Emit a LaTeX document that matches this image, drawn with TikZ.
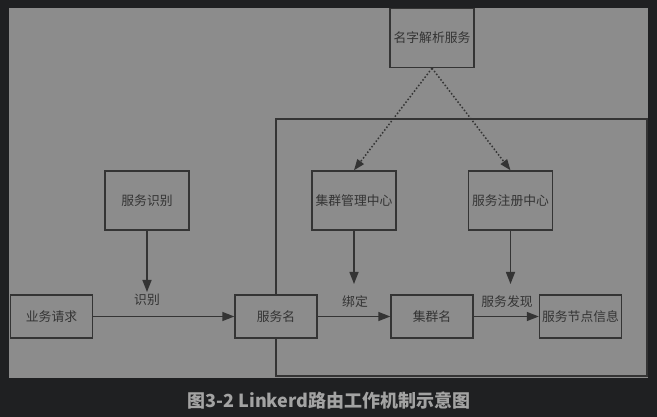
\documentclass[tikz,border=0pt]{standalone}
\usepackage{fontspec}
\newfontfamily\cjk{Noto Sans CJK SC}
\usetikzlibrary{arrows.meta}
\definecolor{bgdark}{HTML}{1F2022}
\definecolor{panel}{HTML}{8C8C8C}
\definecolor{ink}{HTML}{343434}
\definecolor{captc}{HTML}{A3A3A3}
\begin{document}
\begin{tikzpicture}[x=1pt,y=-1pt,
  box/.style={draw=ink, line width=1.4pt, fill=panel, inner sep=0pt, text=ink,
    font=\cjk\fontsize{12.8}{13}\selectfont},
  tall/.style={box, minimum width=84pt, minimum height=59pt},
  flat/.style={box, minimum width=82pt, minimum height=43pt},
  arr/.style={draw=ink, line width=1.4pt, -{Triangle[length=12pt,width=9pt]}},
  dotarr/.style={draw=ink, line width=1.5pt, dash pattern=on 1.5pt off 2pt, -{Triangle[length=11pt,width=8pt]}},
  lbl/.style={text=ink, inner sep=0pt, font=\cjk\fontsize{12.8}{13}\selectfont}]
\useasboundingbox (0,0) rectangle (657,417);
\fill[bgdark] (0,0) rectangle (657,417);
\fill[panel] (9,8) rectangle (648,378);
% container
\draw[ink, line width=1.4pt] (276,119) rectangle (647,376);
% nodes
\node[tall] (dns) at (432,38) {名字解析服务};
\node[tall] (sid) at (147,200.5) {服务识别};
\node[tall] (cm) at (354,200.5) {集群管理中心};
\node[tall] (reg) at (510.5,200.5) {服务注册中心};
\node[flat] (req) at (51.5,316.5) {业务请求};
\node[flat] (sn) at (276,316.5) {服务名};
\node[flat] (cn) at (432,316.5) {集群名};
\node[flat] (ni) at (580.5,316.5) {服务节点信息};
% free ends
\coordinate (sidend) at (147,292);
\coordinate (cmend) at (354,284);
\coordinate (regend) at (510.5,284);
% connectors
\draw[arr] (sid.south) -- (sidend);
\draw[arr] (cm.south) -- (cmend);
\draw[arr] (reg.south) -- (regend);
\draw[arr] (req.east) -- (sn.west);
\draw[arr] (sn.east) -- (cn.west);
\draw[arr] (cn.east) -- (ni.west);
\draw[dotarr] (dns.south) -- (cm.north);
\draw[dotarr] (dns.south) -- (reg.north);
% labels
\node[lbl] (l1) at (147,300) {识别};
\node[lbl] (l2) at (355,302) {绑定};
\node[lbl] (l3) at (507,302) {服务发现};
% caption
\node[text=captc, font=\cjk\bfseries\fontsize{18}{19}\selectfont] (cap) at (329,401) {图3-2 Linkerd路由工作机制示意图};
\end{tikzpicture}
\end{document}
